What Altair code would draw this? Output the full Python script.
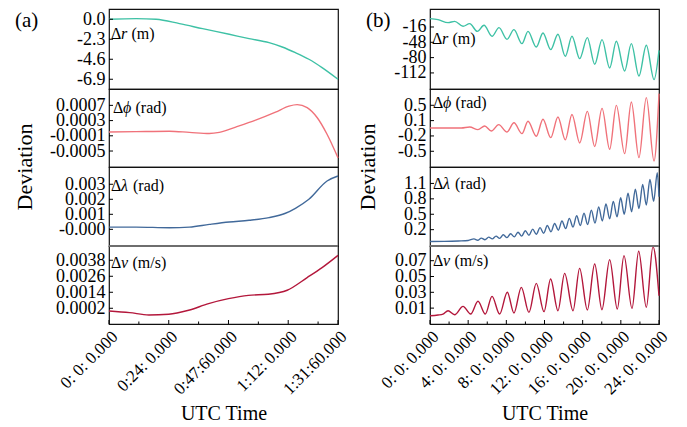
import altair as alt
import pandas as pd

FONT = "Liberation Serif"

# ---------------- panel (a): x in minutes ----------------
a_time_ticks = [0, 24, 48, 72, 92]
a_time_labels = ["0: 0: 0.000", "0:24: 0.000", "0:47:60.000", "1:12: 0.000", "1:31:60.000"]
a_time_minor = [12, 36, 60, 84]

a_r_t = [0, 10.9, 18.9, 28.3, 37.6, 48.3, 56.3, 64.3, 69.6, 74.9, 80.3, 85.6, 92]
a_r_v = [0, 0.07, 0, -0.50, -1.08, -1.73, -2.23, -2.69, -3.19, -3.84, -4.60, -5.56, -6.90]

a_p_t = [0, 10.9, 24.3, 32.3, 40.3, 44.3, 50.9, 58.9, 66.9, 72.3, 75.6, 79.6, 83.6, 87.6, 92]
a_p_v = [0.0, 0.00001, 0.00002, -0.00001, -0.00004, -0.00001, 0.00013, 0.00031, 0.00052,
         0.00068, 0.00072, 0.00064, 0.00038, -0.00006, -0.00068]

a_l_t = [0, 10.9, 24.3, 32.3, 40.3, 48.3, 56.3, 64.3, 70.9, 74.9, 80.3, 87.6, 92]
a_l_v = [0.00015, 0.00015, 0.00011, 0.00015, 0.00033, 0.00049, 0.0006, 0.00078, 0.00107,
         0.0014, 0.002, 0.00322, 0.00355]

a_v_t = [0, 8.3, 16, 24, 32, 40, 48, 56, 64, 71.6, 79.6, 85.6, 92]
a_v_v = [0.0, -0.00013, -0.0003, -0.00025, 0.00005, 0.00055, 0.00092, 0.00117, 0.00125,
         0.00155, 0.0025, 0.00325, 0.00417]

# ---------------- panel (b): x in hours ----------------
b_time_ticks = [0, 4, 8, 12, 16, 20, 24]
b_time_labels = ["0: 0: 0.000", "4: 0: 0.000", "8: 0: 0.000", "12: 0: 0.000",
                 "16: 0: 0.000", "20: 0: 0.000", "24: 0: 0.000"]
b_time_minor = [2, 6, 10, 14, 18, 22]

b_r_t = [0, 0.84, 1.89, 2.59, 3.46, 4.16, 4.96, 5.66, 6.50, 7.23, 8.07, 8.80, 9.64, 10.27,
         11.14, 11.84, 12.65, 13.41, 14.18, 14.88, 15.69, 16.49, 17.26, 18.03, 18.83, 19.53,
         20.40, 21.10, 21.90, 22.67, 23.48, 24.0]
b_r_v = [1.4, -0.7, -6.9, -4.2, -14.6, -9.0, -25.1, -12.5, -35.5, -17.4, -41.8, -21.6, -50.8,
         -25.1, -57.8, -28.5, -63.4, -31.3, -77.3, -35.5, -82.2, -38.3, -94.0, -42.5, -101.7,
         -45.9, -107.9, -50.8, -118.4, -54.3, -126.0, -64.8]

b_p_t = [0, 3.28, 4.16, 5.03, 5.73, 6.43, 7.20, 8.07, 8.80, 9.64, 10.27, 11.14, 11.84, 12.65,
         13.41, 14.18, 14.88, 15.69, 16.49, 17.26, 18.03, 18.83, 19.53, 20.40, 21.10, 21.90,
         22.67, 23.48, 24.0]
b_p_v = [-0.018, -0.018, 0.005, -0.056, 0.027, -0.087, 0.058, -0.11, 0.10, -0.148, 0.134,
         -0.208, 0.18, -0.239, 0.233, -0.29, 0.29, -0.36, 0.36, -0.44, 0.43, -0.505, 0.499,
         -0.604, 0.575, -0.696, 0.674, -0.772, 0.766]

b_l_t = [0, 1.5, 3.0, 4.0, 4.61, 5.0, 5.38, 5.76, 6.15, 6.53, 6.92, 7.30, 7.68, 8.07, 8.45,
         8.84, 9.22, 9.61, 9.99, 10.37, 10.76, 11.14, 11.53, 11.91, 12.30, 12.68, 13.06, 13.45,
         13.83, 14.22, 14.60, 14.99, 15.37, 15.75, 16.14, 16.52, 16.91, 17.29, 17.68, 18.06,
         18.44, 18.83, 19.21, 19.60, 19.98, 20.36, 20.75, 21.13, 21.52, 21.90, 22.29, 22.67,
         23.05, 23.44, 23.82, 24.0]
b_l_v = [-0.03, -0.028, -0.02, -0.01, 0.02, -0.005, 0.035, 0.005, 0.055, 0.02, 0.075, 0.03,
         0.10, 0.045, 0.12, 0.06, 0.15, 0.075, 0.18, 0.09, 0.21, 0.11, 0.24, 0.13, 0.28, 0.16,
         0.32, 0.19, 0.37, 0.22, 0.42, 0.25, 0.47, 0.28, 0.52, 0.30, 0.58, 0.33, 0.64, 0.37,
         0.70, 0.41, 0.75, 0.45, 0.82, 0.50, 0.91, 0.55, 0.99, 0.61, 1.08, 0.68, 1.18, 0.75,
         1.31, 0.84]

b_v_t = [0, 0.84, 1.36, 1.89, 2.58, 3.46, 4.26, 5.03, 5.80, 6.50, 7.30, 8.10, 8.80, 9.57,
         10.37, 11.14, 11.95, 12.64, 13.41, 14.11, 14.99, 15.68, 16.49, 17.26, 18.02, 18.83,
         19.63, 20.33, 21.17, 21.87, 22.67, 23.37, 24.0]
b_v_v = [0.0004, 0.0013, 0.0025, 0.0067, 0.0017, 0.0122, 0.0025, 0.0186, 0.0025, 0.0249,
         0.0025, 0.030, 0.0038, 0.0363, 0.0046, 0.0413, 0.0055, 0.0468, 0.0067, 0.054, 0.0067,
         0.0603, 0.0076, 0.0658, 0.008, 0.0713, 0.0089, 0.0764, 0.0097, 0.0819, 0.011, 0.0878,
         0.0257]

# y-axis ticks / labels / domains
a_r_ticks, a_r_labels, a_r_dom = [0.0, -2.3, -4.6, -6.9], ["0.0", "-2.3", "-4.6", "-6.9"], [-8.02, 1.18]
a_p_ticks, a_p_labels, a_p_dom = [0.0007, 0.0003, -0.0001, -0.0005], ["0.0007", "0.0003", "-0.0001", "-0.0005"], [-0.00092, 0.00113]
a_l_ticks, a_l_labels, a_l_dom = [0.003, 0.002, 0.001, 0.0], ["0.003", "0.002", "0.001", "-0.000"], [-0.00111, 0.00415]
a_v_ticks, a_v_labels, a_v_dom = [0.0038, 0.0026, 0.0014, 0.0002], ["0.0038", "0.0026", "0.0014", "0.0002"], [-0.00098, 0.00487]
b_r_ticks, b_r_labels, b_r_dom = [-16.0, -48.0, -80.0, -112.0], ["-16", "-48", "-80", "-112"], [-145.6, 21.6]
b_p_ticks, b_p_labels, b_p_dom = [0.5, 0.15, -0.2, -0.55], ["0.5", "0.1", "-0.2", "-0.5"], [-0.909, 0.872]
b_l_ticks, b_l_labels, b_l_dom = [1.1, 0.8, 0.5, 0.2], ["1.1", "0.8", "0.5", "0.2"], [-0.118, 1.42]
b_v_ticks, b_v_labels, b_v_dom = [0.07, 0.05, 0.03, 0.01], ["0.07", "0.05", "0.03", "0.01"], [-0.0101, 0.0886]

COL_R, COL_P, COL_L, COL_V = "#3EC1A5", "#F0727A", "#41699A", "#B3173B"
W = 229
HEIGHTS = [80, 78, 79, 78]


def lab_expr(values, labels):
    arr_l = "[" + ",".join("'" + s + "'" for s in labels) + "]"
    arr_v = "[" + ",".join(repr(float(v)) for v in values) + "]"
    return f"{arr_l}[indexof({arr_v}, datum.value)]"


def txt(s, x, y, size, italic=False, angle=None, align="left"):
    kw = dict(text=s, font=FONT, fontSize=size, align=align, baseline="middle", color="black")
    if italic:
        kw["fontStyle"] = "italic"
    if angle is not None:
        kw["angle"] = angle
    return alt.Chart(pd.DataFrame({"k": [0]})).mark_text(**kw).encode(
        x=alt.value(x), y=alt.value(y))


def panel(t, v, color, xdom, ydom, yticks, ylabels, h, sym, unit, lx, ly, symw,
          xticks=None, xlabels=None, xminor=None, extra=()):
    df = pd.DataFrame({"t": t, "v": v})
    yenc = alt.Y("v:Q", scale=alt.Scale(domain=ydom, nice=False, zero=False),
                 axis=alt.Axis(values=yticks, labelExpr=lab_expr(yticks, ylabels), title=None,
                               labelOverlap=False, labelPadding=4))
    xscale = alt.Scale(domain=xdom, nice=False, zero=False)
    if xticks is None:
        xenc = alt.X("t:Q", scale=xscale, axis=None)
    else:
        xenc = alt.X("t:Q", scale=xscale,
                     axis=alt.Axis(values=xticks, labelExpr=lab_expr(xticks, xlabels),
                                   labelAngle=-45, labelFontSize=17, labelOverlap=False,
                                   labelFlush=False, labelPadding=4, title="UTC Time",
                                   titleFontSize=20, titlePadding=6))
    layers = [
        alt.Chart(df).mark_line(color=color, strokeWidth=1.4, interpolate="monotone").encode(x=xenc, y=yenc),
        alt.Chart(pd.DataFrame({"v": yticks})).mark_rule(color="black", strokeWidth=1).encode(
            y=yenc, x=alt.value(0), x2=alt.value(4)),
    ]
    if xticks is not None:
        layers.append(alt.Chart(pd.DataFrame({"t": xticks})).mark_rule(color="black", strokeWidth=1).encode(
            x=xenc, y=alt.value(h), y2=alt.value(h - 4)))
        layers.append(alt.Chart(pd.DataFrame({"t": xminor})).mark_rule(color="black", strokeWidth=1).encode(
            x=xenc, y=alt.value(h), y2=alt.value(h - 2.5)))
        # grey separator line on top of the bottom panel, as in the reference
        layers.append(alt.Chart(pd.DataFrame({"k": [0]})).mark_rule(color="#6e6e6e", strokeWidth=2.2).encode(
            x=alt.value(0), x2=alt.value(W), y=alt.value(0)))
    layers += [
        txt("Δ", lx, ly, 16),
        txt(sym, lx + 10, ly, 16, italic=True),
        txt("(" + unit + ")", lx + 10 + symw + 4, ly, 16),
    ]
    layers += list(extra)
    return alt.layer(*layers).properties(width=W, height=h)


A = [
    panel(a_r_t, a_r_v, COL_R, [0, 92], a_r_dom, a_r_ticks, a_r_labels, HEIGHTS[0], "r", "m", 2, 25, 6.5,
          extra=[txt("(a)", -94, 12, 21)]),
    panel(a_p_t, a_p_v, COL_P, [0, 92], a_p_dom, a_p_ticks, a_p_labels, HEIGHTS[1], "ϕ", "rad", 4, 19, 8.5,
          extra=[txt("Deviation", -84, 78, 22, angle=270, align="center")]),
    panel(a_l_t, a_l_v, COL_L, [0, 92], a_l_dom, a_l_ticks, a_l_labels, HEIGHTS[2], "λ", "rad", 2, 19, 8),
    panel(a_v_t, a_v_v, COL_V, [0, 92], a_v_dom, a_v_ticks, a_v_labels, HEIGHTS[3], "v", "m/s", 2, 17, 7.5,
          xticks=a_time_ticks, xlabels=a_time_labels, xminor=a_time_minor),
]
B = [
    panel(b_r_t, b_r_v, COL_R, [0, 24], b_r_dom, b_r_ticks, b_r_labels, HEIGHTS[0], "r", "m", 2, 30, 6.5,
          extra=[txt("(b)", -64, 12, 21)]),
    panel(b_p_t, b_p_v, COL_P, [0, 24], b_p_dom, b_p_ticks, b_p_labels, HEIGHTS[1], "ϕ", "rad", 3, 14, 8.5,
          extra=[txt("Deviation", -62, 78, 22, angle=270, align="center")]),
    panel(b_l_t, b_l_v, COL_L, [0, 24], b_l_dom, b_l_ticks, b_l_labels, HEIGHTS[2], "λ", "rad", 3, 17, 8),
    panel(b_v_t, b_v_v, COL_V, [0, 24], b_v_dom, b_v_ticks, b_v_labels, HEIGHTS[3], "v", "m/s", 3, 15, 7.5,
          xticks=b_time_ticks, xlabels=b_time_labels, xminor=b_time_minor),
]

cells = []
for i in range(4):
    cells += [A[i], B[i]]

chart = alt.concat(*cells, columns=2, spacing={"row": 0, "column": 92}, bounds="flush").properties(
    padding={"left": 5, "top": 0, "right": 5, "bottom": 0}, background="white"
).configure_view(stroke="#111", strokeWidth=1.2).configure_axis(
    labelFont=FONT, labelFontSize=18, labelColor="black", titleFont=FONT, titleFontWeight="normal",
    titleColor="black", ticks=False, domain=False, grid=False
)

chart.save("out.html", embed_options={"renderer": "svg", "actions": False})
